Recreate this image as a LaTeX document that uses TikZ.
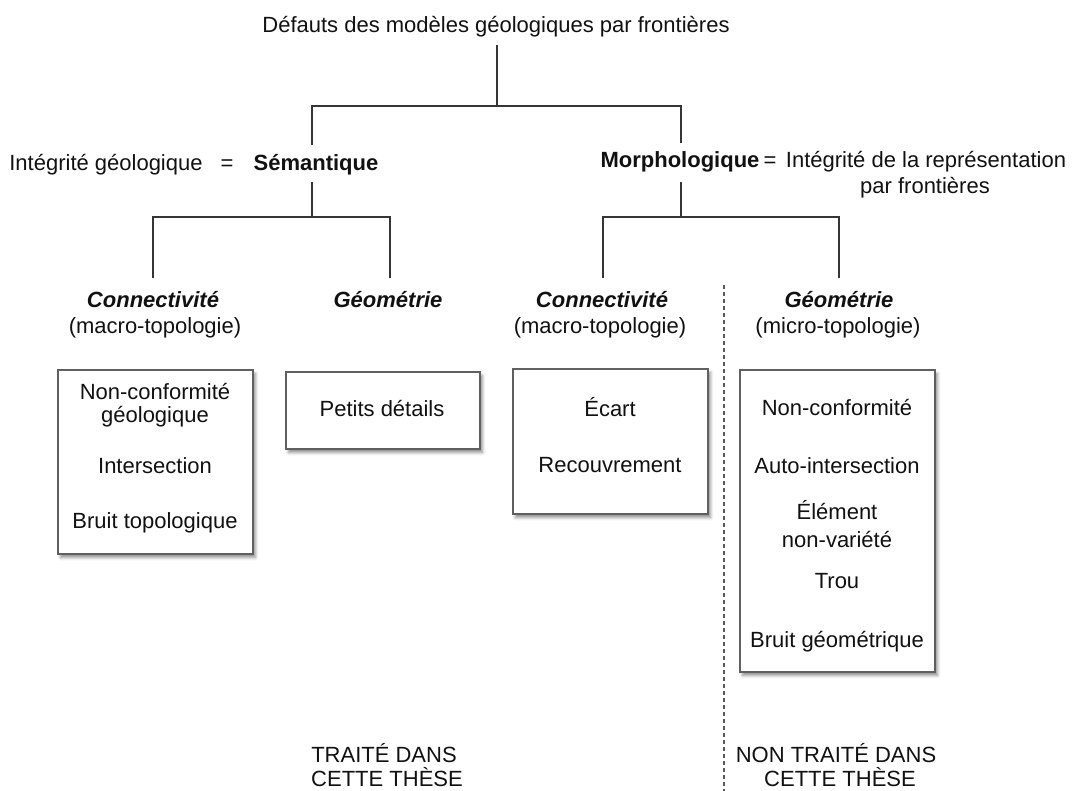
\documentclass[tikz,border=0pt]{standalone}
\usepackage{fontspec}
\setmainfont{Liberation Sans}
\usetikzlibrary{shadows.blur}
\definecolor{boxline}{HTML}{606060}
\definecolor{txt}{HTML}{111111}
\begin{document}
\begin{tikzpicture}[x=1pt,y=-1pt,
  lbl/.style={anchor=base,inner sep=0pt,text=txt,font=\fontsize{22}{26}\selectfont},
  blbl/.style={lbl,font=\fontsize{22}{26}\selectfont\bfseries},
  bilbl/.style={lbl,font=\fontsize{22}{26}\selectfont\bfseries\itshape},
  tree/.style={draw=txt!85,line width=1.6pt},
  sep/.style={draw=black!65,line width=1.4pt,dash pattern=on 4pt off 3pt},
  itembox/.style={draw=boxline,line width=1.3pt,fill=white,rectangle,inner sep=0pt,
    blur shadow={shadow xshift=2.5pt,shadow yshift=-3.5pt,shadow blur radius=3pt,shadow opacity=45}}
]
\useasboundingbox (0,0) rectangle (1075,790);

% ---- top level
\node[lbl] (title) at (496,32) {Défauts des modèles géologiques par frontières};
\coordinate (t0) at (497,45);
\coordinate (t1) at (497,106);

\node[lbl] (ig) at (106,170) {Intégrité géologique};
\node[lbl] (eq1) at (227,170) {=};
\node[blbl] (sem) at (316,170) {Sémantique};
\node[blbl] (mor) at (680,167) {Morphologique};
\node[lbl] (eq2) at (770,167) {=};
\node[lbl] (ir1) at (926,167) {Intégrité de la représentation};
\node[lbl] (ir2) at (925,193) {par frontières};

\coordinate (sT) at (312,145);
\coordinate (sB) at (312,182);
\coordinate (mT) at (681,143);
\coordinate (mB) at (681,182);
\coordinate (sJ) at (312,217);
\coordinate (mJ) at (681,217);

\draw[tree] (t0) -- (t1);
\draw[tree] (sT) -- (312,106) -- (681,106) -- (mT);

% ---- third level labels
\node[bilbl] (c1) at (153,307) {Connectivité};
\node[lbl] (c1s) at (155,333) {(macro-topologie)};
\node[bilbl] (g1) at (388,307) {Géométrie};
\node[bilbl] (c2) at (602,307) {Connectivité};
\node[lbl] (c2s) at (600,333) {(macro-topologie)};
\node[bilbl] (g2) at (839,307) {Géométrie};
\node[lbl] (g2s) at (838,333) {(micro-topologie)};

\coordinate (c1T) at (153,278);
\coordinate (g1T) at (390,278);
\coordinate (c2T) at (603,278);
\coordinate (g2T) at (839,278);

\draw[tree] (sB) -- (sJ);
\draw[tree] (c1T) -- (153,217) -- (390,217) -- (g1T);
\draw[tree] (mB) -- (mJ);
\draw[tree] (c2T) -- (603,217) -- (839,217) -- (g2T);

% ---- separator
\coordinate (d0) at (724,285);
\coordinate (d1) at (724,792);
\draw[sep] (d0) -- (d1);

% ---- boxes
\node[itembox,minimum width=195pt,minimum height=184pt] (b1) at (155.5,462) {};
\node[itembox,minimum width=194pt,minimum height=77pt] (b2) at (383,410.5) {};
\node[itembox,minimum width=195pt,minimum height=145pt] (b3) at (610.5,441.5) {};
\node[itembox,minimum width=195pt,minimum height=302pt] (b4) at (837.5,521) {};

\node[lbl] (b1a) at (155,399) {Non-conformité};
\node[lbl] (b1b) at (155,422) {géologique};
\node[lbl] (b1c) at (155,473) {Intersection};
\node[lbl] (b1d) at (155,528) {Bruit topologique};

\node[lbl] (b2a) at (382,416) {Petits détails};

\node[lbl] (b3a) at (610,416) {Écart};
\node[lbl] (b3b) at (610,472) {Recouvrement};

\node[lbl] (b4a) at (837,415) {Non-conformité};
\node[lbl] (b4b) at (837,473) {Auto-intersection};
\node[lbl] (b4c) at (837,519) {Élément};
\node[lbl] (b4d) at (837,547) {non-variété};
\node[lbl] (b4e) at (837,588) {Trou};
\node[lbl] (b4f) at (837,647) {Bruit géométrique};

% ---- bottom notes
\node[lbl] (n1a) at (384,762) {TRAITÉ DANS};
\node[lbl] (n1b) at (387,786) {CETTE THÈSE};
\node[lbl] (n2a) at (836,762) {NON TRAITÉ DANS};
\node[lbl] (n2b) at (840,786) {CETTE THÈSE};
\end{tikzpicture}
\end{document}
